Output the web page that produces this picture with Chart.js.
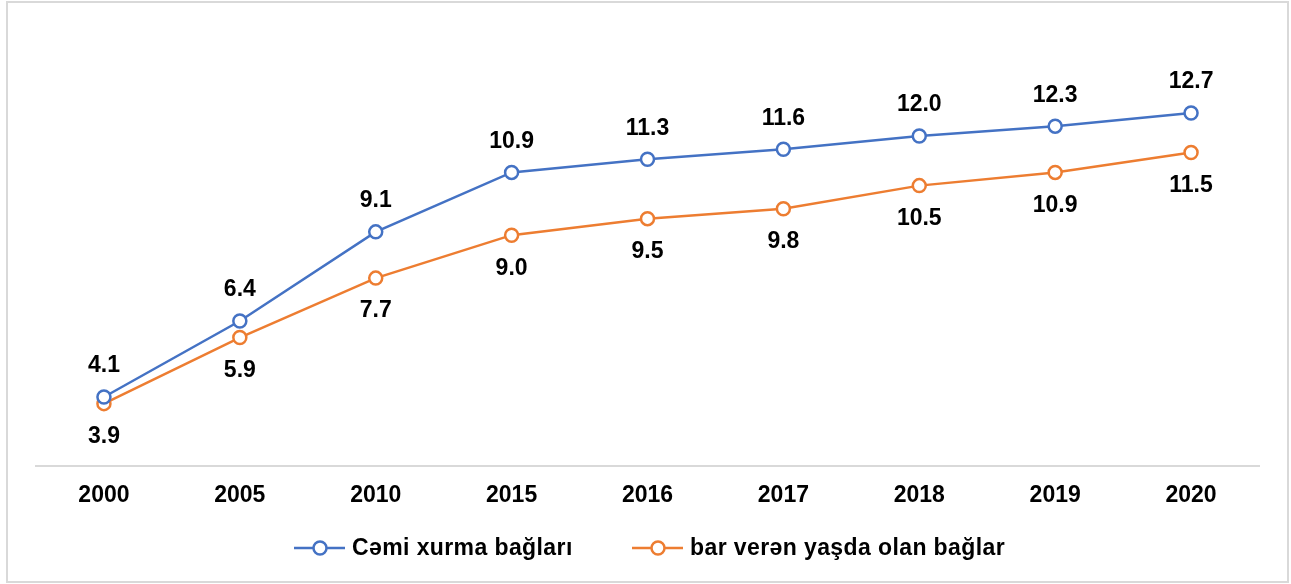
<!DOCTYPE html>
<html>
<head>
<meta charset="utf-8">
<script src="https://cdn.jsdelivr.net/npm/chart.js@4/dist/chart.umd.min.js"></script>
<style>
  body { margin: 0; background: #fff; }
  #frame { position: absolute; left: 6px; top: 1px; width: 1279px; height: 578px; border: 2px solid #d9d9d9; }
  #myChart { position: absolute; left: 0; top: 0; }
</style>
</head>
<body>
<div id="frame"></div>
<canvas id="myChart" width="1291" height="584"></canvas>
<script>
var years = ['2000', '2005', '2010', '2015', '2016', '2017', '2018', '2019', '2020'];
var totalGroves = [4.1, 6.4, 9.1, 10.9, 11.3, 11.6, 12.0, 12.3, 12.7];
var bearingGroves = [3.9, 5.9, 7.7, 9.0, 9.5, 9.8, 10.5, 10.9, 11.5];
var seriesNames = ['Cəmi xurma bağları', 'bar verən yaşda olan bağlar'];

var FONT = '"Liberation Sans", Arial, sans-serif';

// value labels: first series above the points, second below
var valueLabels = {
    id: 'valueLabels',
    afterDatasetsDraw: function(chart) {
        var ctx = chart.ctx;
        ctx.save();
        ctx.font = 'bold 23px ' + FONT;
        ctx.fillStyle = '#000';
        ctx.textAlign = 'center';
        ctx.textBaseline = 'middle';
        chart.data.datasets.forEach(function(ds, i) {
            var meta = chart.getDatasetMeta(i);
            meta.data.forEach(function(pt, j) {
                var dy = i === 0 ? -31 : 33;
                ctx.fillText(ds.data[j].toFixed(1), pt.x, pt.y + dy);
            });
        });
        ctx.restore();
    }
};

// legend at the bottom: line with hollow circle, then bold text
var lineLegend = {
    id: 'lineLegend',
    afterDraw: function(chart) {
        var ctx = chart.ctx;
        var starts = [294, 632];
        var y = 548;
        ctx.save();
        ctx.font = 'bold 23px ' + FONT;
        ctx.letterSpacing = '0.4px';
        ctx.textBaseline = 'middle';
        chart.data.datasets.forEach(function(ds, i) {
            var x = starts[i];
            ctx.strokeStyle = ds.borderColor;
            ctx.lineWidth = 2.5;
            ctx.beginPath();
            ctx.moveTo(x, y);
            ctx.lineTo(x + 51, y);
            ctx.stroke();
            ctx.beginPath();
            ctx.arc(x + 26, y, 6.5, 0, Math.PI * 2);
            ctx.fillStyle = '#fff';
            ctx.fill();
            ctx.stroke();
            ctx.fillStyle = '#000';
            ctx.fillText(ds.label, x + 58, y + 1);
        });
        ctx.restore();
    }
};

var ctx = document.getElementById('myChart').getContext('2d');
var myChart = new Chart(ctx, {
    type: 'line',
    data: {
        labels: years,
        datasets: [{
            label: seriesNames[0],
            data: totalGroves,
            borderColor: '#4472C4',
            backgroundColor: '#fff',
            borderWidth: 2.5,
            pointRadius: 6.5,
            pointBorderWidth: 2.5,
            pointBackgroundColor: '#fff',
            pointBorderColor: '#4472C4',
            tension: 0,
            clip: false
        }, {
            label: seriesNames[1],
            data: bearingGroves,
            borderColor: '#ED7D31',
            backgroundColor: '#fff',
            borderWidth: 2.5,
            pointRadius: 6.5,
            pointBorderWidth: 2.5,
            pointBackgroundColor: '#fff',
            pointBorderColor: '#ED7D31',
            tension: 0,
            clip: false
        }]
    },
    options: {
        responsive: false,
        animation: false,
        layout: {
            padding: { left: 36, right: 32, top: 70, bottom: 60 }
        },
        plugins: {
            legend: { display: false },
            tooltip: { enabled: false }
        },
        scales: {
            x: {
                offset: true,
                grid: { display: false, drawTicks: false },
                border: { display: true, color: '#d9d9d9', width: 2 },
                ticks: {
                    padding: 15,
                    color: '#000',
                    font: { family: FONT, size: 23, weight: 'bold' }
                }
            },
            y: {
                display: false,
                min: 2,
                max: 14
            }
        }
    },
    plugins: [valueLabels, lineLegend]
});
</script>
</body>
</html>
